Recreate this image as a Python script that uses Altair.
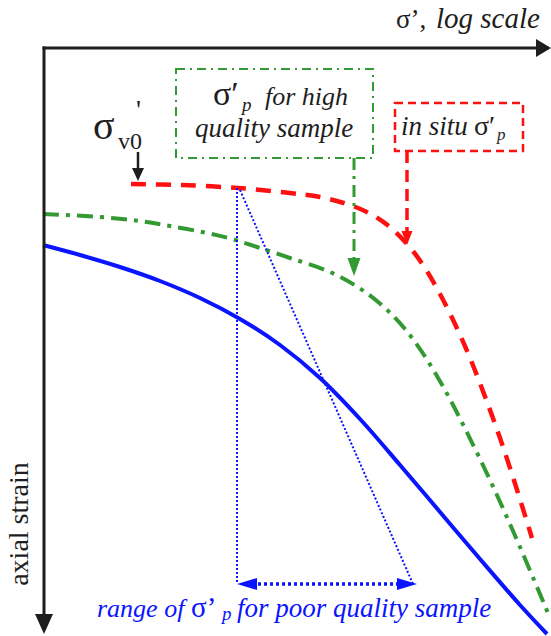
import altair as alt
import pandas as pd

W, H = 551, 636

# ---------------- data (figure units: x to the right = log sigma', y downward = axial strain)
in_situ_x = [131, 180, 238, 290, 320, 347, 370, 390, 410, 425, 440, 455, 470, 485, 500, 515, 532]
in_situ_y = [184, 185, 188, 193, 197, 204, 213.5, 227, 247.5, 268, 294, 324, 358, 396.5, 438, 483.5, 538]

hq_x = [43, 100, 140, 170, 207, 232, 257, 290, 330, 360, 385, 405, 425, 445, 465, 490, 515, 548]
hq_y = [214, 217, 221, 226, 233, 239, 247, 258, 272, 288.5, 308, 329, 356.5, 390, 428.5, 480, 535.5, 613]

pq_x = [43, 80, 120, 160, 200, 240, 280, 320, 360, 400, 440, 480, 520, 547]
pq_y = [245, 255, 267, 281, 298, 319, 345, 378, 419, 465, 512, 559, 605, 634]

# range of sigma'_p for poor quality sample (construction lines)
range_x = [237, 417]
range_top_y = [188, 190]
range_bottom_y = 584

# ---------------- helpers
xs = alt.Scale(domain=[0, W], nice=False, zero=False)
ys = alt.Scale(domain=[0, H], nice=False, zero=False, reverse=True)
X = alt.X("x:Q", scale=xs, axis=None)
Y = alt.Y("y:Q", scale=ys, axis=None)

SERIF = "Liberation Serif"
RED = "#ff1010"
GREEN = "#339933"
BLUE = "#0a14ff"
BLACK = "#1e1e1e"


def curve(xv, yv, color, width, dash=None):
    df = pd.DataFrame({"x": xv, "y": yv, "o": list(range(len(xv)))})
    kw = dict(color=color, strokeWidth=width, interpolate="catmull-rom", strokeCap="butt")
    if dash:
        kw["strokeDash"] = dash
    return alt.Chart(df).mark_line(**kw).encode(x=X, y=Y, order="o:Q")


def seg(x1, y1, x2, y2, color, width, dash=None, cap="butt"):
    df = pd.DataFrame({"x": [x1], "y": [y1], "x2": [x2], "y2": [y2]})
    kw = dict(color=color, strokeWidth=width, strokeCap=cap)
    if dash:
        kw["strokeDash"] = dash
    return alt.Chart(df).mark_rule(**kw).encode(x=X, y=Y, x2="x2:Q", y2="y2:Q")


def box(x1, y1, x2, y2, color, width, dash):
    df = pd.DataFrame({"x": [x1], "y": [y1], "x2": [x2], "y2": [y2]})
    return alt.Chart(df).mark_rect(fillOpacity=0, stroke=color, strokeWidth=width,
                                   strokeDash=dash).encode(x=X, y=Y, x2="x2:Q", y2="y2:Q")


def head(x, y, path, color):
    df = pd.DataFrame({"x": [x], "y": [y]})
    return alt.Chart(df).mark_point(shape=path, size=400, filled=True, opacity=1,
                                    color=color, strokeWidth=0).encode(x=X, y=Y)


def label(text, x, y, size, color=BLACK, style="normal", align="left", angle=0):
    df = pd.DataFrame({"x": [x], "y": [y], "t": [text]})
    kw = dict(align=align, baseline="alphabetic", fontSize=size, fontStyle=style,
              font=SERIF, color=color)
    if angle:
        kw["angle"] = angle
    return alt.Chart(df).mark_text(**kw).encode(x=X, y=Y, text="t:N")


DOWN = lambda hw, L: f"M0,0L{-hw},{-L}L{hw},{-L}Z"
RIGHT = lambda hh, L: f"M0,0L{-L},{-hh}L{-L},{hh}Z"
LEFT = lambda hh, L: f"M0,0L{L},{-hh}L{L},{hh}Z"

layers = [
    # curves
    curve(pq_x, pq_y, BLUE, 4),
    curve(hq_x, hq_y, GREEN, 4, [16, 7, 4, 7]),
    curve(in_situ_x, in_situ_y, RED, 4.5, [15, 10]),
    # construction lines for poor quality range
    seg(range_x[0], range_top_y[0], range_x[0], range_bottom_y, BLUE, 2, [2, 2]),
    seg(240, range_top_y[1], 413, range_bottom_y, BLUE, 2, [2, 2]),
    seg(252, range_bottom_y, 402, range_bottom_y, BLUE, 3.5, [3, 3]),
    head(range_x[0], range_bottom_y, LEFT(0.6, 2.0), BLUE),
    head(range_x[1], range_bottom_y, RIGHT(0.6, 2.0), BLUE),
    # axes
    seg(44, 48, 44, 616, BLACK, 3, cap="square"),
    seg(44, 48, 537, 48, BLACK, 3, cap="square"),
    head(44, 634, DOWN(0.9, 2.0), BLACK),
    head(551, 48, RIGHT(0.9, 1.5), BLACK),
    # sigma'v0 marker arrow
    seg(138, 152, 138, 170, BLACK, 2.5),
    head(138, 181, DOWN(0.6, 1.3), BLACK),
    # green annotation box + pointer
    box(176, 69, 373, 158, GREEN, 2, [9, 5, 2, 5]),
    seg(354, 158, 354, 259, GREEN, 3, [12, 6, 3, 6]),
    head(354, 276, DOWN(0.65, 1.8), GREEN),
    # red annotation box + pointer
    box(395, 103, 523, 151, RED, 2.5, [8, 5]),
    seg(407, 151, 407, 233, RED, 3.5, [12, 7]),
    head(407, 245, DOWN(0.55, 1.4), RED),
    # texts
    label("σ’,", 396, 28, 27),
    label("log scale", 436, 28, 29, style="italic"),
    label("axial strain", 28, 524, 28, angle=270, align="center"),
    label("σ", 93, 139, 40),
    label("v0", 118, 149, 24),
    label("'", 136, 119, 28),
    label("σ′", 213, 105, 34),
    label("p", 242, 111, 19, style="italic"),
    label("for high", 265, 105, 26, style="italic"),
    label("quality sample", 274, 137, 27, style="italic", align="center"),
    label("in situ", 401, 135, 27, style="italic"),
    label("σ′", 474, 135, 28),
    label("p", 497, 140, 17, style="italic"),
    label("range of", 97, 617, 26, color=BLUE, style="italic"),
    label("σ’", 191, 617, 29, color=BLUE),
    label("p", 222, 620, 19, color=BLUE, style="italic"),
    label("for poor quality sample", 237, 617, 27, color=BLUE, style="italic"),
]

chart = alt.layer(*layers).properties(
    width=W, height=H, padding=0, autosize=alt.AutoSizeParams(type="none"),
    background="white",
).configure_view(strokeWidth=0)

chart.save("out.html", embed_options={"renderer": "svg", "actions": False})
